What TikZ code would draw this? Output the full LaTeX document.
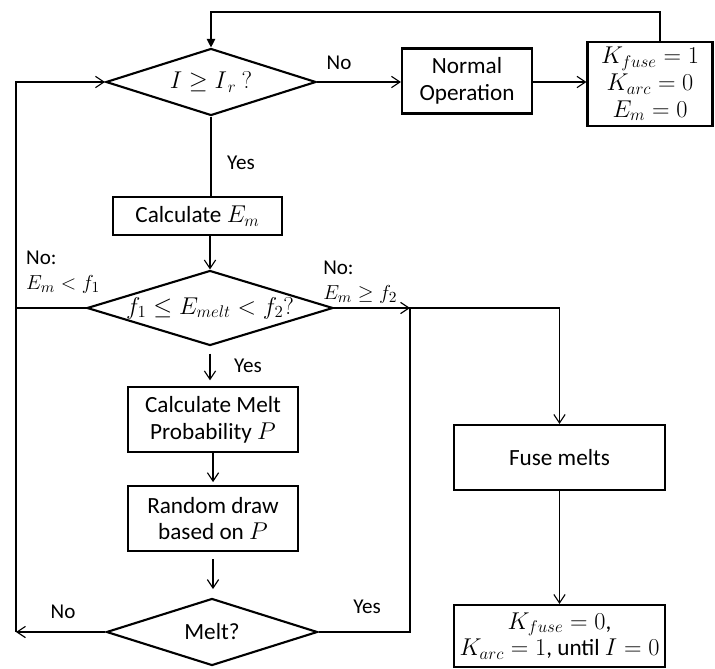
\documentclass[tikz,border=0pt]{standalone}
\usepackage{amsmath}
\usepackage{fontspec}
\setmainfont{Carlito}
\usetikzlibrary{shapes.geometric}
\usetikzlibrary{arrows.meta}

\begin{document}
\begin{tikzpicture}[x=0.025cm,y=-0.025cm,
  every node/.style={font=\fontsize{16.5}{19}\selectfont},
  box/.style={draw, rectangle, line width=1.5pt, align=center, inner sep=2pt},
  dec/.style={draw, diamond, aspect=3.3, inner sep=0pt, line width=1.5pt},
  lbl/.style={font=\fontsize{15}{18}\selectfont, align=left},
  every path/.style={line width=0.8pt},
  >={Straight Barb[length=6pt,width=8pt]}]

\useasboundingbox (0,0) rectangle (715,669);

\node[dec, minimum width=5.25cm, minimum height=1.675cm] (chk) at (211,82) {$I \geq I_{\,r}\ ?$};
\node[box, minimum width=3.25cm, minimum height=1.625cm] (normal) at (467,81) {Normal\\Operation};
\node[box, minimum width=3.125cm, minimum height=2.1cm] (reset) at (650,84) {$K_{fuse}=1$\\$K_{arc}=0$\\$E_m=0$};
\node[box, minimum width=4.225cm, minimum height=0.95cm] (calcE) at (197.5,216) {Calculate $E_m$};
\node[dec, minimum width=6.15cm, minimum height=1.875cm] (range) at (210,308) {$f_1 \leq E_{melt} < f_2?$};
\node[box, minimum width=4.25cm, minimum height=1.625cm] (prob) at (213,419.5) {Calculate Melt\\Probability $P$};
\node[box, minimum width=4.25cm, minimum height=1.625cm] (rdraw) at (213,518.5) {Random draw\\based on $P$};
\node[dec, minimum width=5.275cm, minimum height=1.675cm] (melt) at (212,632) {Melt?};
\node[box, minimum width=5.275cm, minimum height=1.625cm] (fuse) at (559.5,457.5) {Fuse melts};
\node[box, minimum width=5.275cm, minimum height=1.55cm] (final) at (559.5,636) {$K_{fuse}=0$,\\$K_{arc}=1$, until $I=0$};

\coordinate (top) at (660,12);
\coordinate (lb) at (16,632);
\coordinate (rj) at (410,308);

\node[lbl] (no1) at (339,63) {No};
\node[lbl] (yes1) at (241,163) {Yes};
\node[lbl, anchor=west] (no2) at (21,272) {No:\\$E_m < f_1$};
\node[lbl, anchor=west] (no3) at (318,282) {No:\\$E_m \geq f_2$};
\node[lbl] (yes2) at (248,366) {Yes};
\node[lbl] (no4) at (63,612) {No};
\node[lbl] (yes3) at (367,607) {Yes};

\draw[-{Triangle[length=6pt,width=6pt]}] (reset.north -| top) -- (top) -| (chk.north);
\path[->] (chk.east) edge (chk.east -| normal.west);
\path[->] (chk.east -| normal.east) edge (chk.east -| reset.west);
\draw (chk.south) -- (chk.south |- calcE.north);
\draw[->] (range.north |- calcE.south) -- (range.north);
\draw[->, shorten <=5pt, shorten >=4pt] (range.south) -- (range.south |- prob.north);
\draw[->, shorten >=2pt] (prob.south) -- (rdraw.north);
\draw[->, shorten <=5pt, shorten >=6pt] (rdraw.south) -- (rdraw.south |- melt.north);
\draw (range.west) -- (range.west -| lb);
\draw[->] (melt.west) -- (lb);
\draw[->] (lb) |- (chk.west);
\draw[->] (range.east) -- (rj);
\draw[->] (melt.east) -| (rj) -| (fuse.north);
\path[->] (fuse.south) edge (final.north);
\end{tikzpicture}
\end{document}
